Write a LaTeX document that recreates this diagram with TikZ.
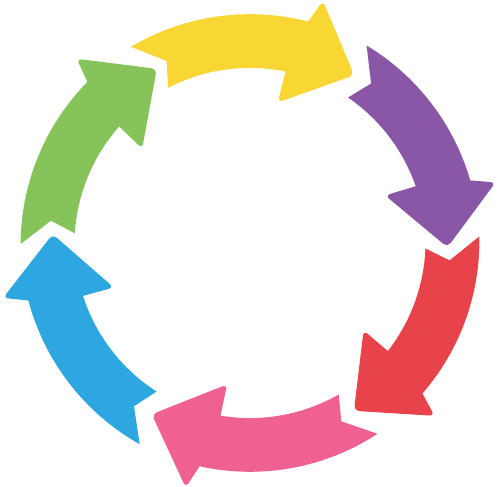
\documentclass[tikz,border=0pt]{standalone}
\usetikzlibrary{calc}

\definecolor{cycYellow}{HTML}{F8D633}
\definecolor{cycPurple}{HTML}{8957A6}
\definecolor{cycRed}{HTML}{E8434A}
\definecolor{cycPink}{HTML}{EE6190}
\definecolor{cycBlue}{HTML}{2EA6DF}
\definecolor{cycGreen}{HTML}{86C35A}

\begin{document}
\begin{tikzpicture}
  [
    x=0.0201cm, y=0.0199cm,
    arrowpart/.style = {line join=round},
    barbs/.style = {rounded corners=3pt}
  ]
  \useasboundingbox (-5cm,-4.88cm) rectangle (5cm,4.86cm);

  % six arrows, one every 60 degrees, running clockwise
  % (colour / rotation / tail shift / head shift)
  \foreach \col/\rot/\tl/\hd in {cycYellow/0/0/0.4, cycPurple/-60/-1.8/1,
                                 cycRed/-120/0.4/4, cycPink/180/2.5/2.4,
                                 cycBlue/120/0/-0.3, cycGreen/60/-1/0.4}
  {
    \fill [\col, arrowpart, rotate=\rot]
      ({121+\tl}:230) arc [start angle=121+\tl, end angle=75+\hd, radius=230]
      [barbs] -- ({73+\hd}:254) -- ({58+\hd}:198) -- ({78.5+\hd}:144) [sharp corners]
      -- ({78+\hd}:176) arc [start angle=78+\hd, end angle=117.6+\tl, radius=176]
      -- ({114.4+\tl}:201) -- cycle;
  }
\end{tikzpicture}
\end{document}
